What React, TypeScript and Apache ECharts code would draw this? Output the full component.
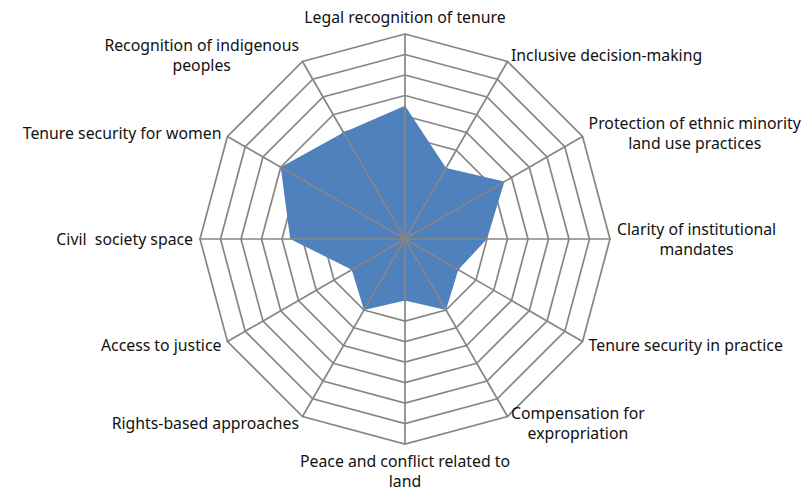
import React, { useEffect, useRef } from 'react';
import * as echarts from 'echarts';

// Indicators listed clockwise from the top, as in the reference
const categories: string[] = [
  'Legal recognition of tenure',
  'Inclusive decision-making',
  'Protection of ethnic minority\nland use practices',
  'Clarity of institutional\nmandates',
  'Tenure security in practice',
  'Compensation for\nexpropriation',
  'Peace and conflict related to\nland',
  'Rights-based approaches',
  'Access to justice',
  'Civil  society space',
  'Tenure security for women',
  'Recognition of indigenous\npeoples',
];
const values: number[] = [6.5, 4, 5.6, 4, 3, 4, 3, 4, 3, 5.6, 7, 6];
const scaleMax = 10;
const rings = 10;

export default function App() {
  const ref = useRef<HTMLDivElement>(null);
  useEffect(() => {
    document.body.style.margin = '0';
    if (!ref.current) return;
    const chart = echarts.init(ref.current, undefined, { renderer: 'svg' });
    // ECharts places indicators counter-clockwise; reorder to get clockwise layout
    const order = [0, ...categories.slice(1).map((_, i) => categories.length - 1 - i)];
    const indicator = order.map((i) => ({ name: categories[i], max: scaleMax, min: 0 }));
    const data = order.map((i) => values[i]);
    const font = 'Noto Sans';
    const fs = 15.8;
    const base = {
      center: [405, 239],
      radius: 205,
      startAngle: 90,
      shape: 'polygon' as const,
      splitNumber: rings,
      indicator,
      axisTick: { show: false },
      axisLabel: { show: false },
      splitArea: { show: false },
    };
    chart.setOption({
      animation: false,
      backgroundColor: '#ffffff',
      radar: [
        {
          ...base,
          z: 0,
          nameGap: 7,
          axisLine: { show: false },
          splitLine: { show: true, lineStyle: { color: '#868686', width: 1.7 } },
          axisName: {
            show: true,
            color: '#111111',
            fontFamily: font,
            fontSize: fs,
            lineHeight: 20,
            formatter: (name: string) =>
              name
                .split('\n')
                .map((l) => `{c|${l}}`)
                .join('\n'),
            rich: {
              c: { align: 'center', color: '#111111', fontFamily: font, fontSize: fs, lineHeight: 20 },
            },
          },
        },
        {
          ...base,
          z: 3,
          axisName: { show: false },
          axisLine: { show: true, lineStyle: { color: '#868686', width: 1.7 } },
          splitLine: { show: false },
        },
      ],
      series: [
        {
          type: 'radar',
          radarIndex: 0,
          z: 2,
          symbol: 'none',
          lineStyle: { width: 0 },
          areaStyle: { color: '#4F81BD', opacity: 1 },
          data: [{ value: data, name: 'Score' }],
        },
      ],
    });
    return () => chart.dispose();
  }, []);
  return <div ref={ref} style={{ width: 807, height: 493 }} />;
}
